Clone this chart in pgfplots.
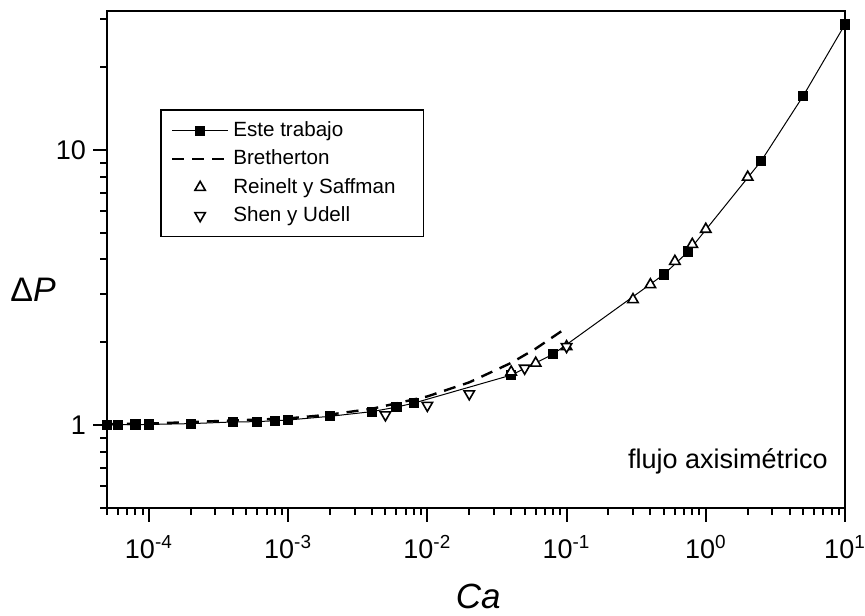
\documentclass[border=0pt]{standalone}
\usepackage{fontspec}
\setmainfont{Liberation Sans}
\usepackage{pgfplots}
\pgfplotsset{compat=1.18}

\pgfplotsset{
  legline/.style={legend image code/.code={\draw[mark repeat=2,mark phase=2,##1] plot coordinates {(0pt,0pt) (14pt,0pt) (28pt,0pt)};}},
  legdash/.style={legend image code/.code={\draw[##1] (0pt,0pt) -- (28pt,0pt);}},
}

% Bretherton / Reinelt y Saffman / Shen y Udell vs este trabajo
\pgfplotstableread{
Ca      dP
5e-5    1.003
6e-5    1.004
8e-5    1.005
1e-4    1.006
2e-4    1.013
4e-4    1.027
6e-4    1.030
8e-4    1.038
1e-3    1.044
2e-3    1.077
4e-3    1.120
6e-3    1.163
8e-3    1.203
4e-2    1.52
8e-2    1.81
0.5     3.53
0.75    4.28
2.5     9.12
5       15.7
10      28.6
}\trabajo

\pgfplotstableread{
Ca      dP
5e-5    1.008
1e-4    1.013
1e-3    1.058
2e-3    1.093
4e-3    1.147
1e-2    1.272
2e-2    1.431
4e-2    1.684
6e-2    1.897
1e-1    2.26
}\bretherton

\pgfplotstableread{
Ca      dP
4e-2    1.56
6e-2    1.68
1e-1    1.93
0.3     2.86
0.4     3.24
0.6     3.94
0.8     4.54
1       5.15
2       7.97
}\reinelt

\pgfplotstableread{
Ca      dP
5e-3    1.09
1e-2    1.18
2e-2    1.30
5e-2    1.61
1e-1    1.93
}\shen

\begin{document}
\begin{tikzpicture}
\useasboundingbox (-53.5pt,-53.5pt) rectangle (379pt,254pt);
\begin{axis}[
    name=ax,
    scale only axis,
    width=369pt, height=248.5pt,
    xmode=log, ymode=log,
    xmin=5e-5, xmax=10,
    ymin=0.5, ymax=32,
    clip=false,
    axis line style={line width=1.2pt},
    tick align=outside,
    xtick pos=bottom, ytick pos=left,
    major tick length=7pt, minor tick length=3.5pt,
    every tick/.style={black, line width=1pt},
    xtick={1e-4,1e-3,1e-2,1e-1,1,10},
    xticklabels={10\textsuperscript{-4},10\textsuperscript{-3},10\textsuperscript{-2},10\textsuperscript{-1},10\textsuperscript{0},10\textsuperscript{1}},
    minor xtick={5e-5,6e-5,7e-5,8e-5,9e-5,
                 2e-4,3e-4,4e-4,5e-4,6e-4,7e-4,8e-4,9e-4,
                 2e-3,3e-3,4e-3,5e-3,6e-3,7e-3,8e-3,9e-3,
                 2e-2,3e-2,4e-2,5e-2,6e-2,7e-2,8e-2,9e-2,
                 0.2,0.3,0.4,0.5,0.6,0.7,0.8,0.9,
                 2,3,4,5,6,7,8,9},
    ytick={1,10},
    yticklabels={1,10},
    minor ytick={0.5,0.6,0.7,0.8,0.9,2,3,4,5,6,7,8,9,20,30},
    ticklabel style={font=\fontsize{13.5}{15}\selectfont},
    xticklabel style={yshift=-3pt},
    xlabel={\textit{Ca}},
    xlabel style={font=\fontsize{17.5}{20}\selectfont, at={(axis description cs:0.503,-0.178)}, anchor=center, inner sep=0pt},
    ylabel={Δ\textit{P}},
    ylabel style={font=\fontsize{17}{20}\selectfont, rotate=-90, at={(axis description cs:-0.10,0.44)}, anchor=center},
    legend style={at={(axis description cs:0.072,0.803)}, anchor=north west,
        draw=black, line width=0.8pt, font=\fontsize{10.3}{12}\selectfont,
        row sep=1.2pt, inner xsep=5pt, inner ysep=4pt},
    legend cell align=left,
]
\addplot[black, line width=0.5pt, mark=square*, mark size=2.3pt, legline]
    table[x=Ca, y=dP] {\trabajo};
\addlegendentry{Este trabajo}

\addplot[black, line width=1.2pt, dash pattern=on 6pt off 4pt, no marks, legdash]
    table[x=Ca, y=dP] {\bretherton};
\addlegendentry{Bretherton}

\addplot[black, only marks, mark=triangle*, mark size=3pt,
    mark options={fill=white, line width=0.8pt}, legline]
    table[x=Ca, y=dP] {\reinelt};
\addlegendentry{Reinelt y Saffman\rule{7pt}{0pt}}

\addplot[black, only marks, mark=triangle*, mark size=3pt,
    mark options={fill=white, line width=0.8pt, rotate=180}, legline]
    table[x=Ca, y=dP] {\shen};
\addlegendentry{Shen y Udell}

\node[anchor=east, font=\fontsize{13.5}{15}\selectfont] at (rel axis cs:0.986,0.093) {flujo axisimétrico};
\end{axis}
\end{tikzpicture}
\end{document}
